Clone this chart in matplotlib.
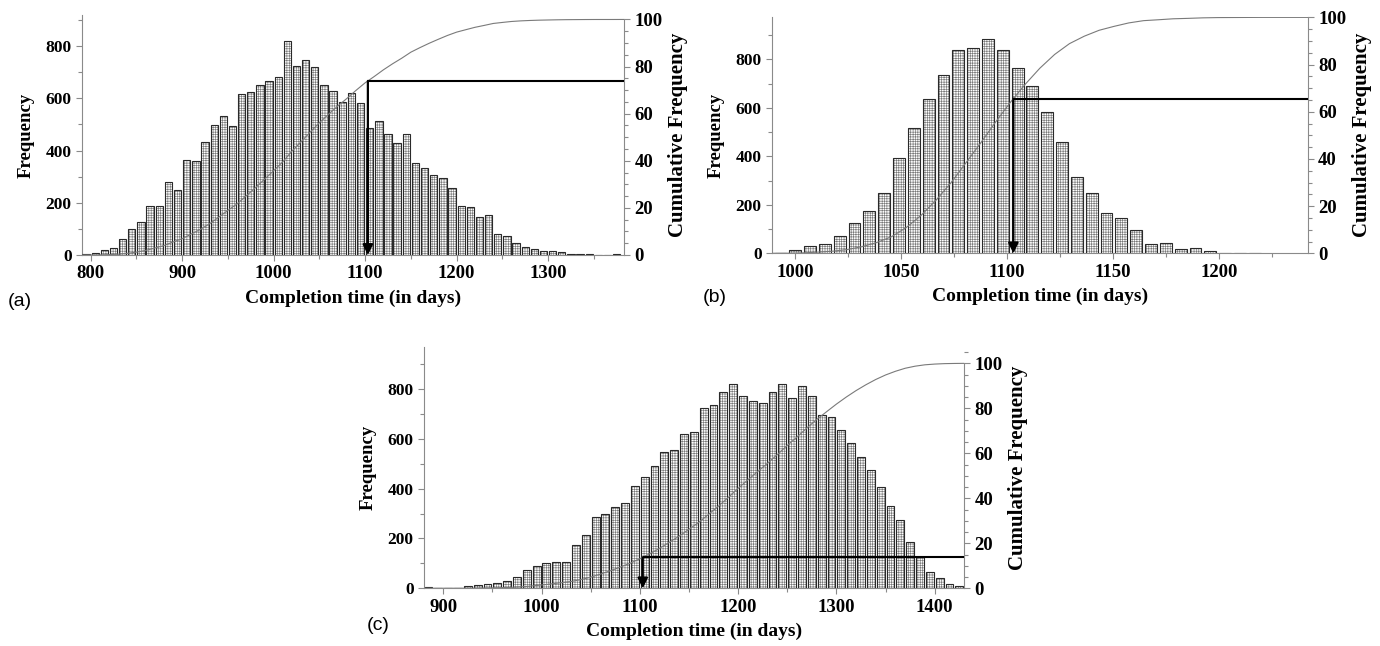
import numpy as np
import matplotlib
matplotlib.use("Agg")
from matplotlib import pyplot as plt
from matplotlib.ticker import MultipleLocator

# (a) bins of 10 days, first bin centred at 795
freq_a = [2, 8, 20, 28, 62, 99, 127, 186, 188, 279, 248, 364, 361, 432, 497,
          531, 495, 615, 624, 651, 666, 683, 818, 722, 745, 718, 651, 629, 585,
          622, 583, 488, 512, 464, 428, 465, 352, 332, 307, 294, 256, 186, 183,
          145, 152, 79, 74, 46, 31, 23, 15, 14, 10, 5, 5, 3, 1, 0, 2]
centers_a = np.arange(795, 1376, 10)

# (b) bins of 7 days, first bin centred at 993
freq_b = [3, 14, 32, 38, 71, 124, 175, 247, 393, 517, 638, 734, 837, 845, 882,
          838, 766, 690, 584, 458, 316, 250, 165, 147, 96, 38, 41, 18, 22, 11,
          3, 3, 3]
centers_b = np.arange(993, 1218, 7)

# (c) bins of 10 days, first bin centred at 885
freq_c = [4, 0, 1, 1, 8, 13, 16, 21, 28, 46, 72, 88, 101, 107, 107, 174, 214,
          285, 299, 328, 342, 412, 448, 491, 548, 554, 621, 629, 724, 736, 788,
          819, 771, 753, 744, 788, 822, 764, 811, 771, 696, 688, 635, 585, 527,
          475, 408, 332, 275, 186, 125, 66, 40, 16, 9]
centers_c = np.arange(885, 1426, 10)

target_day = 1103

plt.rcParams['font.family'] = ['Liberation Serif', 'DejaVu Serif']
plt.rcParams['font.weight'] = 'bold'
plt.rcParams['hatch.linewidth'] = 0.45

fig = plt.figure(figsize=(13.8, 6.46), dpi=100)

panels = [
    # rect, centers, freq, bin width, xlim, xmajor, xminor, ylim left, ylim right
    ([0.0594, 0.6053, 0.3928, 0.3715], centers_a, freq_a, 10, (790.5, 1383), 100, 50, 919, 101.9),
    ([0.5594, 0.6079, 0.3882, 0.3663], centers_b, freq_b, 7, (989, 1242), 50, 25, 976, 100.3),
    ([0.3072, 0.0893, 0.3915, 0.3740], centers_c, freq_c, 10, (880.4, 1430), 100, 50, 970, 107.4),
]

grey = '#8a8a8a'

for rect, centers, freq, bw, xlim, xmaj, xmin, ytop, ytop2 in panels:
    freq = np.array(freq, dtype=float)
    ax = fig.add_axes(rect)
    ax.bar(centers, freq, width=bw * 0.8, color='white', edgecolor='#7a7a7a',
           linewidth=0, hatch='+' * 7, zorder=2)
    ax.bar(centers, freq, width=bw * 0.8, fill=False, edgecolor='#2a2a2a',
           linewidth=0.8, zorder=3)
    ax.set_xlim(*xlim)
    ax.set_ylim(0, ytop)
    ax.xaxis.set_major_locator(MultipleLocator(xmaj))
    ax.xaxis.set_minor_locator(MultipleLocator(xmin))
    ax.yaxis.set_major_locator(MultipleLocator(200))
    ax.yaxis.set_minor_locator(MultipleLocator(100))
    for s in ['top', 'right']:
        ax.spines[s].set_visible(False)
    for s in ['left', 'bottom']:
        ax.spines[s].set_color(grey)
        ax.spines[s].set_linewidth(0.8)
    ax.tick_params(which='both', color=grey, width=0.8)
    ax.tick_params(axis='x', labelsize=13.5)
    ax.tick_params(axis='y', labelsize=12.5)
    ax.tick_params(which='major', length=4)
    ax.tick_params(which='minor', length=3)
    ax.set_xlabel('Completion time (in days)', fontsize=14, fontweight='bold', labelpad=5)
    ax.set_ylabel('Frequency', fontsize=13.5, fontweight='bold', labelpad=8)

    # cumulative curve plotted at bin right edges
    edges = centers + bw / 2
    cum = np.cumsum(freq) / freq.sum() * 100
    cx = np.concatenate([[centers[0] - bw / 2], edges, [xlim[1]]])
    cy = np.concatenate([[0], cum, [cum[-1]]])

    ax2 = ax.twinx()
    ax2.set_ylim(0, ytop2)
    ax2.set_xlim(*xlim)
    ax2.plot(cx, cy, color='#7a7a7a', linewidth=0.8, zorder=4)
    ct = np.interp(target_day, cx, cy)
    ax2.hlines(ct, target_day, xlim[1], color='black', linewidth=1.5, zorder=5)
    ax2.annotate('', xy=(target_day, 0), xytext=(target_day, ct),
                 arrowprops=dict(arrowstyle='-|>', color='black', lw=1.6,
                                 mutation_scale=15, shrinkA=0, shrinkB=0),
                 zorder=6)
    ax2.yaxis.set_major_locator(MultipleLocator(20))
    ax2.yaxis.set_minor_locator(MultipleLocator(5))
    ax2.set_yticks([v for v in range(0, 101, 20)])
    ax2.spines['right'].set_bounds(0, 100)
    ax2.spines['right'].set_color(grey)
    ax2.spines['right'].set_linewidth(0.8)
    for s in ['top', 'left', 'bottom']:
        ax2.spines[s].set_visible(False)
    ax2.tick_params(which='both', color=grey, width=0.8, labelsize=13.5)
    ax2.tick_params(which='major', length=4)
    ax2.tick_params(which='minor', length=3)
    ax2.set_ylabel('Cumulative Frequency', fontsize=15, fontweight='bold', labelpad=4)

for lab, x, y in [('(a)', 0.0145, 0.534), ('(b)', 0.518, 0.539), ('(c)', 0.274, 0.0325)]:
    fig.text(x, y, lab, fontsize=14, family=['Liberation Sans', 'DejaVu Sans'],
             fontweight='normal', ha='center', va='center')

fig.savefig('out.png', dpi=100)
